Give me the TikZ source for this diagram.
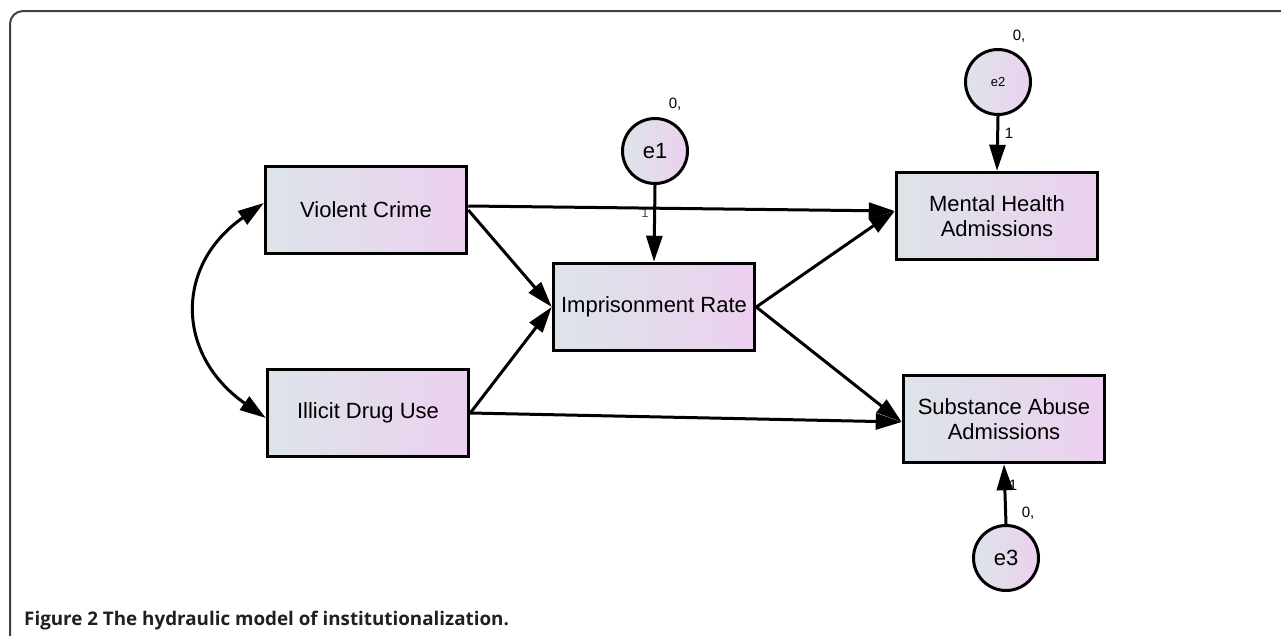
\documentclass[tikz,border=0pt]{standalone}
\usepackage{fontspec}
\setmainfont{Liberation Sans}
\newfontfamily\capfont{Open Sans}
\usetikzlibrary{arrows.meta}

\definecolor{boxleft}{RGB}{221,228,233}
\definecolor{boxright}{RGB}{236,208,239}
\definecolor{captext}{RGB}{35,31,32}

\begin{document}
\begin{tikzpicture}[x=1pt,y=-1pt,
    obsbox/.style={draw, line width=3.5pt, minimum width=201pt, minimum height=87pt,
        left color=boxleft, right color=boxright, align=center,
        font=\fontsize{22}{25}\selectfont},
    errnode/.style={circle, draw, line width=3pt, minimum size=65pt, inner sep=0pt,
        left color=boxleft, right color=boxright, font=\fontsize{22}{25}\selectfont},
    regr/.style={line width=3pt, -{Triangle[length=26pt,width=16pt]}},
    lbl/.style={font=\fontsize{15}{17}\selectfont}]
    \clip (0,0) rectangle (1281,635);
    % frame
    \draw[line width=2pt, color=black!75, rounded corners=13pt] (10,700) -- (10,11) -- (1320,11);
    % observed variables
    \node[obsbox] (VC) at (366,210) {Violent Crime};
    \node[obsbox] (IDU) at (368,413) {Illicit Drug Use};
    \node[obsbox] (IR) at (654,307) {Imprisonment Rate};
    \node[obsbox] (MH) at (997,216) {Mental Health\\Admissions};
    \node[obsbox] (SA) at (1004,419) {Substance Abuse\\Admissions};
    % error terms
    \node[errnode] (e1) at (655,151) {e1};
    \node[errnode, font=\fontsize{13}{15}\selectfont] (e2) at (998,82) {e2};
    \node[errnode] (e3) at (1006,558) {e3};
    \node[lbl] (e1var) at (675,104) {0,};
    \node[lbl] (e2var) at (1019,36) {0,};
    \node[lbl] (e3var) at (1028,513) {0,};
    \node[font=\fontsize{13}{15}\selectfont, color=black!70] (e1w) at (645,213) {1};
    \node[lbl] (e2w) at (1009,133) {1};
    \node[lbl] (e3w) at (1013,485) {1};
    % paths
    \draw[regr] ([yshift=4pt]VC.east) -- ([yshift=5pt]MH.west);
    \draw[regr] (VC.east) -- (IR.west);
    \draw[regr] (IDU.east) -- (IR.west);
    \draw[regr] (IDU.east) -- ([yshift=-3pt]SA.west);
    \draw[regr] (IR.east) -- ([yshift=5pt]MH.west);
    \draw[regr] (IR.east) -- ([yshift=-3pt]SA.west);
    \draw[regr] (e1.south) -- (IR.north);
    \draw[regr] (e2.south) -- (MH.north);
    \draw[regr] (e3.north) -- (SA.south);
    \draw[line width=3pt, {Triangle[length=26pt,width=16pt]}-{Triangle[length=26pt,width=16pt]}]
        ([yshift=7pt]VC.west) to[out=215, in=145, looseness=1.3] ([yshift=-5pt]IDU.west);
    % caption
    \node[anchor=base west, inner sep=0pt, color=captext, font=\capfont\bfseries\fontsize{18.8}{22}\selectfont] (cap) at (24,625)
        {Figure 2 The hydraulic model of institutionalization.};
\end{tikzpicture}
\end{document}
